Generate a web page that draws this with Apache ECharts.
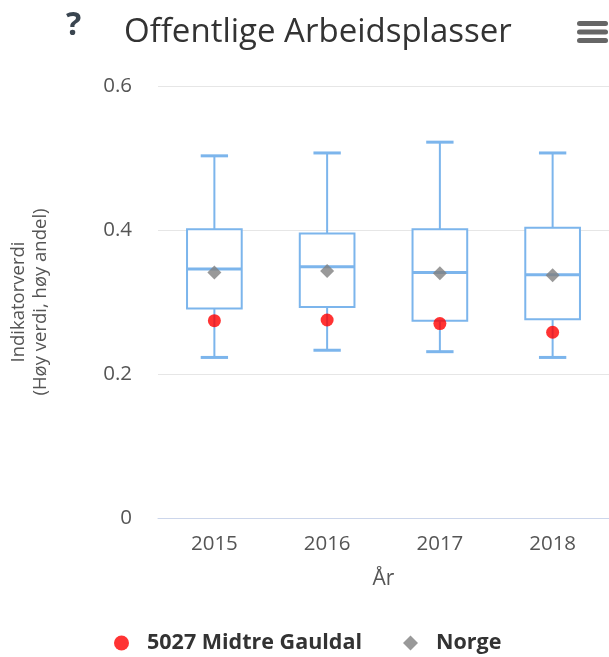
<!DOCTYPE html>
<html>
<head>
<meta charset="utf-8">
<script src="https://cdn.jsdelivr.net/npm/echarts@6/dist/echarts.min.js"></script>
<style>
  html, body { margin: 0; padding: 0; background: #fff; }
  #chart { width: 609px; height: 657px; }
</style>
</head>
<body>
<div id="chart"></div>
<script>
// Years on the category axis
const years = ['2015', '2016', '2017', '2018'];
// Box plot statistics across all municipalities
const boxLow    = [0.223, 0.233, 0.231, 0.223];
const boxQ1     = [0.291, 0.293, 0.274, 0.276];
const boxMedian = [0.346, 0.349, 0.341, 0.338];
const boxQ3     = [0.401, 0.395, 0.401, 0.403];
const boxHigh   = [0.503, 0.507, 0.522, 0.507];
// Highlighted municipality and national value
const kommune = [0.274, 0.275, 0.270, 0.258];
const norge   = [0.341, 0.343, 0.340, 0.337];
// Y axis ticks
const yTicks = [0, 0.2, 0.4, 0.6];

const FONT = '"Open Sans", sans-serif';
const BOX_COLOR = '#7cb5ec';

const boxData = years.map((y, i) => [i, boxLow[i], boxQ1[i], boxMedian[i], boxQ3[i], boxHigh[i]]);

function renderBox(params, api) {
  const idx = api.value(0);
  const low = api.coord([idx, api.value(1)]);
  const q1 = api.coord([idx, api.value(2)]);
  const med = api.coord([idx, api.value(3)]);
  const q3 = api.coord([idx, api.value(4)]);
  const high = api.coord([idx, api.value(5)]);
  const band = api.size([1, 0])[0];
  const bw = band * 0.485;
  const cap = bw / 2;
  const cx = low[0];
  const stroke = { stroke: BOX_COLOR, fill: null, lineWidth: 2 };
  return {
    type: 'group',
    children: [
      { type: 'line', shape: { x1: cx, y1: high[1], x2: cx, y2: q3[1] }, style: stroke },
      { type: 'line', shape: { x1: cx, y1: q1[1], x2: cx, y2: low[1] }, style: stroke },
      { type: 'line', shape: { x1: cx - cap / 2, y1: high[1], x2: cx + cap / 2, y2: high[1] }, style: { stroke: BOX_COLOR, lineWidth: 3 } },
      { type: 'line', shape: { x1: cx - cap / 2, y1: low[1], x2: cx + cap / 2, y2: low[1] }, style: { stroke: BOX_COLOR, lineWidth: 3 } },
      { type: 'rect', shape: { x: cx - bw / 2, y: q3[1], width: bw, height: q1[1] - q3[1] }, style: { stroke: BOX_COLOR, fill: '#fff', lineWidth: 2 } },
      { type: 'line', shape: { x1: cx - bw / 2, y1: med[1], x2: cx + bw / 2, y2: med[1] }, style: { stroke: BOX_COLOR, lineWidth: 3 } }
    ]
  };
}

const chart = echarts.init(document.getElementById('chart'), null, { renderer: 'canvas' });

chart.setOption({
  animation: false,
  backgroundColor: '#fff',
  title: {
    text: 'Offentlige Arbeidsplasser',
    left: 119,
    top: 11,
    textStyle: { fontFamily: FONT, fontSize: 33, fontWeight: 'normal', color: '#333333' }
  },
  graphic: [
    {
      type: 'text', left: 66, top: 10,
      style: { text: '?', font: 'bold 32px ' + FONT, fill: '#3a4550' }
    },
    {
      type: 'group', left: 577, top: 21,
      children: [
        { type: 'rect', shape: { x: 0, y: 0, width: 31, height: 5, r: 2.5 }, style: { fill: '#666' } },
        { type: 'rect', shape: { x: 0, y: 8.5, width: 31, height: 5, r: 2.5 }, style: { fill: '#666' } },
        { type: 'rect', shape: { x: 0, y: 17, width: 31, height: 5, r: 2.5 }, style: { fill: '#666' } }
      ]
    }
  ],
  legend: {
    top: 627,
    left: 109,
    itemGap: 41,
    itemWidth: 15,
    itemHeight: 15,
    textStyle: { fontFamily: FONT, fontSize: 21.5, fontWeight: 'bold', color: '#333333', padding: [0, 0, 0, 13] },
    data: [
      { name: '5027 Midtre Gauldal', icon: 'circle' },
      { name: 'Norge', icon: 'diamond' }
    ]
  },
  grid: { left: 157, right: 0, top: 86, bottom: 139 },
  xAxis: {
    type: 'category',
    data: years,
    name: 'År',
    nameLocation: 'middle',
    nameGap: 51,
    nameTextStyle: { fontFamily: FONT, fontSize: 21, color: '#555555' },
    axisLine: { lineStyle: { color: '#ccd6eb', width: 1 } },
    axisTick: { show: false },
    axisLabel: { fontFamily: FONT, fontSize: 20.5, color: '#555555', margin: 16 },
    splitLine: { show: false }
  },
  yAxis: {
    type: 'value',
    min: yTicks[0],
    max: yTicks[yTicks.length - 1],
    interval: 0.2,
    name: 'Indikatorverdi\n(Høy verdi, høy andel)',
    nameLocation: 'middle',
    nameGap: 106,
    nameTextStyle: { fontFamily: FONT, fontSize: 18.5, color: '#555555', lineHeight: 22 },
    axisLine: { show: false },
    axisTick: { show: false },
    axisLabel: { fontFamily: FONT, fontSize: 20.5, color: '#555555', margin: 26 },
    splitLine: { lineStyle: { color: '#e6e6e6', width: 1 } }
  },
  series: [
    {
      name: 'Fordeling',
      type: 'custom',
      renderItem: renderBox,
      encode: { x: 0, y: [1, 2, 3, 4, 5] },
      data: boxData,
      z: 2
    },
    {
      name: '5027 Midtre Gauldal',
      type: 'scatter',
      symbol: 'circle',
      symbolSize: 13,
      itemStyle: { color: '#ff0000' },
      data: kommune.map((v, i) => [i, v]),
      z: 4
    },
    {
      name: 'Norge',
      type: 'scatter',
      symbol: 'diamond',
      symbolSize: 14,
      itemStyle: { color: '#7f7f7f' },
      data: norge.map((v, i) => [i, v]),
      z: 4
    }
  ]
});
</script>
</body>
</html>
